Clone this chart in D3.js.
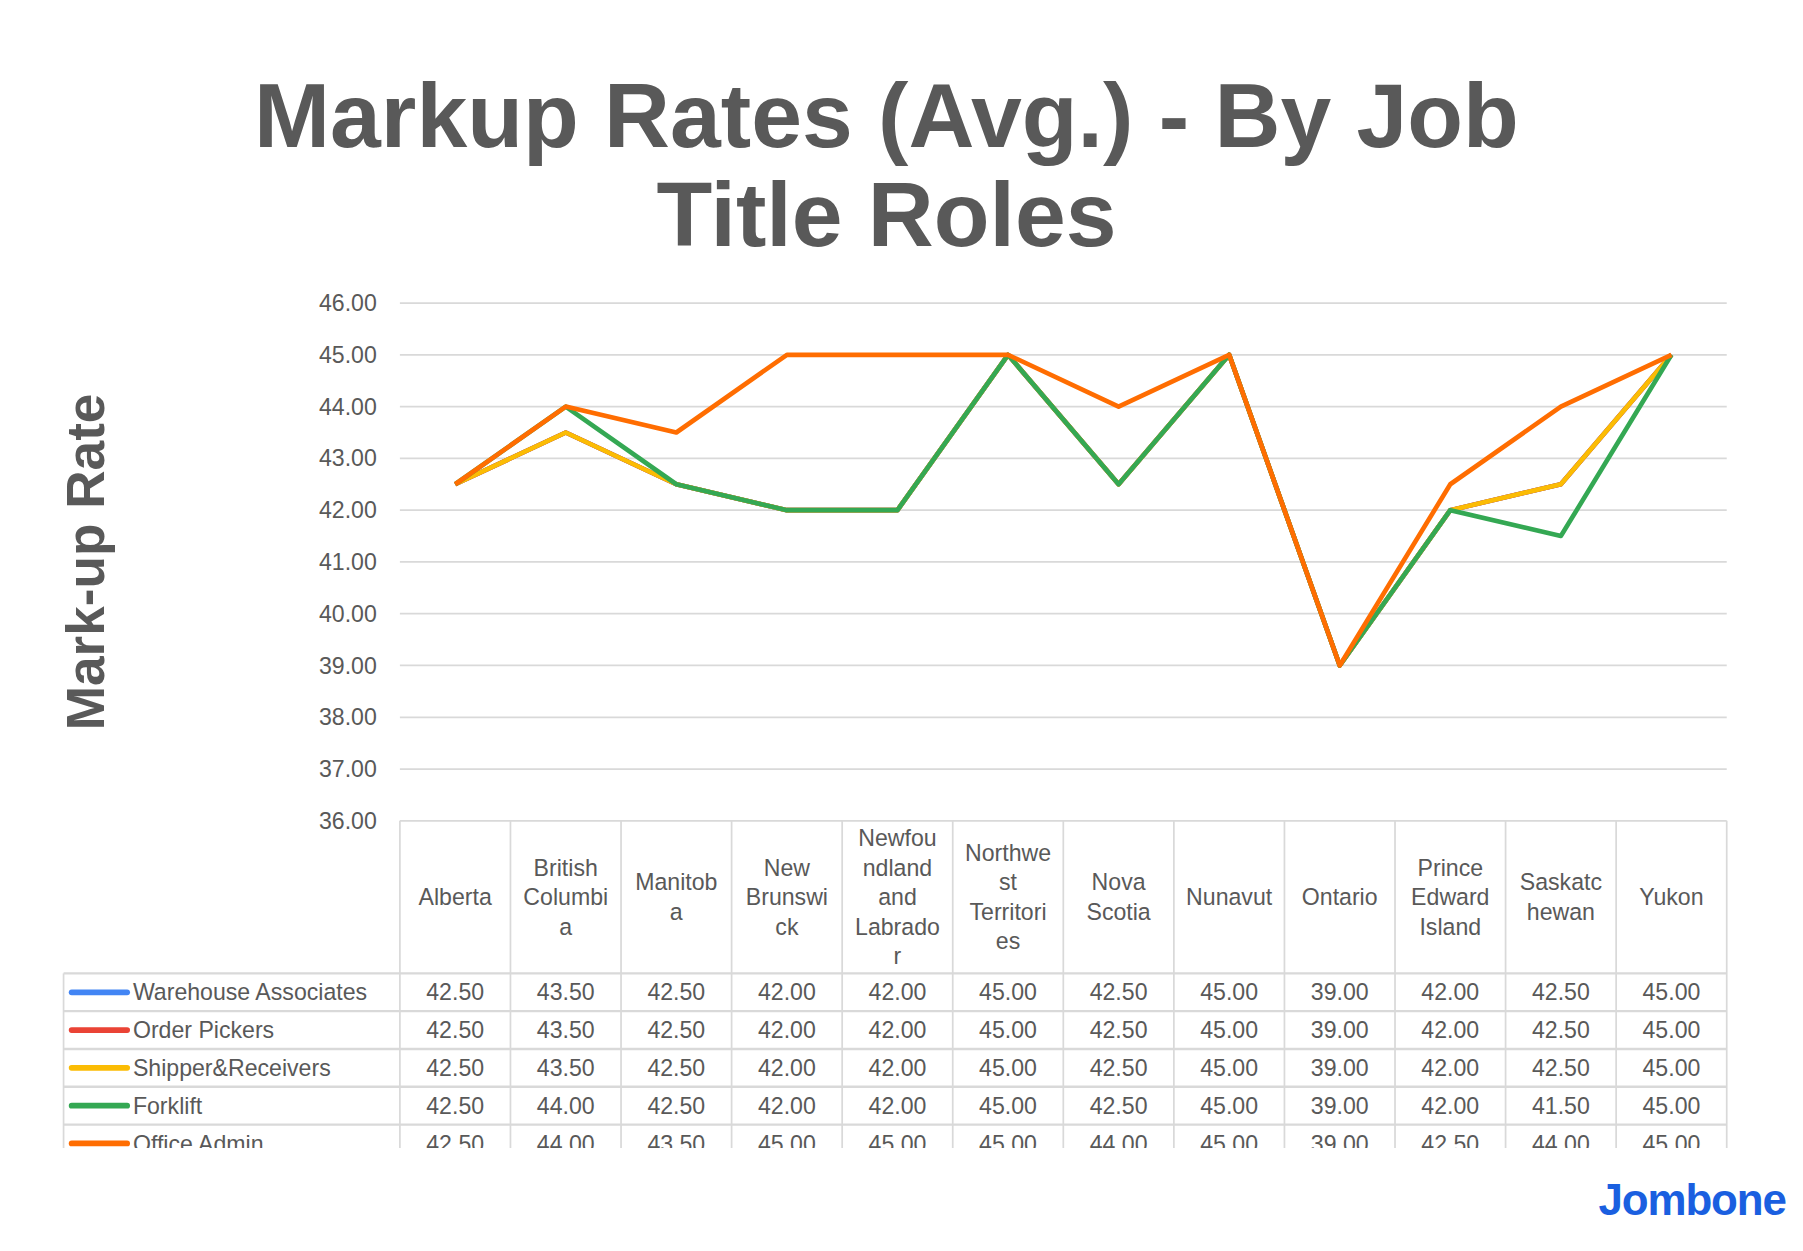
<!DOCTYPE html>
<html><head><meta charset="utf-8">
<script src="https://cdn.jsdelivr.net/npm/d3@7"></script>
<style>body{margin:0;background:#fff}svg{display:block;font-family:"Liberation Sans",Arial,sans-serif}</style>
</head><body><div id="chart"></div>
<script>
(function(d3){
  'use strict';

  // data
  var categories = [['Alberta'],['British','Columbi','a'],['Manitob','a'],['New','Brunswi','ck'],
    ['Newfou','ndland','and','Labrado','r'],['Northwe','st','Territori','es'],['Nova','Scotia'],
    ['Nunavut'],['Ontario'],['Prince','Edward','Island'],['Saskatc','hewan'],['Yukon']];
  var seriesNames = ['Warehouse Associates','Order Pickers','Shipper&Receivers','Forklift','Office Admin'];
  var seriesColors = ['#4285f4','#ea4335','#fbbc04','#34a853','#ff6d01'];
  var warehouse = [42.5,43.5,42.5,42,42,45,42.5,45,39,42,42.5,45];
  var pickers   = [42.5,43.5,42.5,42,42,45,42.5,45,39,42,42.5,45];
  var shippers  = [42.5,43.5,42.5,42,42,45,42.5,45,39,42,42.5,45];
  var forklift  = [42.5,44,42.5,42,42,45,42.5,45,39,42,41.5,45];
  var office    = [42.5,44,43.5,45,45,45,44,45,39,42.5,44,45];
  var series = [warehouse,pickers,shippers,forklift,office];
  var yTicks = d3.range(36,46.01,1);

  var W = 1560, H = 1082;
  var svg = d3.select('#chart').append('svg')
    .attr('width',1803).attr('height',1251).attr('viewBox','0 0 '+W+' '+H);

  var grey = '#595959';
  svg.append('text').attr('x',767).attr('y',127).attr('text-anchor','middle')
    .attr('font-size',79).attr('font-weight','bold').attr('fill',grey).text('Markup Rates (Avg.) - By Job');
  svg.append('text').attr('x',767).attr('y',213).attr('text-anchor','middle')
    .attr('font-size',79).attr('font-weight','bold').attr('fill',grey).text('Title Roles');
  svg.append('text').attr('transform','translate(90,486) rotate(-90)').attr('text-anchor','middle')
    .attr('font-size',46).attr('font-weight','bold').attr('fill',grey).text('Mark-up Rate');

  var left = 346, right = 1494, top = 262, bottom = 710;
  var x = d3.scaleBand().domain(d3.range(categories.length)).range([left,right]);
  var y = d3.scaleLinear().domain([36,46]).range([bottom,top]);

  // grid
  svg.append('g').selectAll('line').data(yTicks).enter().append('line')
    .attr('x1',left).attr('x2',right)
    .attr('y1',function(d){return y(d);}).attr('y2',function(d){return y(d);})
    .attr('stroke','#d9d9d9').attr('stroke-width',1.5);
  svg.append('g').selectAll('text').data(yTicks).enter().append('text')
    .attr('x',326).attr('y',function(d){return y(d)+7;}).attr('text-anchor','end')
    .attr('font-size',20).attr('fill',grey).text(function(d){return d.toFixed(2);});

  // lines
  var line = d3.line().x(function(d,i){return x(i)+x.bandwidth()/2;}).y(function(d){return y(d);});
  svg.append('g').selectAll('path').data(series).enter().append('path')
    .attr('d',line).attr('fill','none')
    .attr('stroke',function(d,i){return seriesColors[i];})
    .attr('stroke-width',4).attr('stroke-linejoin','round');

  // data table
  var tbl = svg.append('g');
  svg.append('clipPath').attr('id','tclip').append('rect').attr('x',0).attr('y',0).attr('width',W).attr('height',993);
  tbl.attr('clip-path','url(#tclip)');
  var headBottom = 842, rowH = 32.7, legLeft = 55;
  var bc = '#d9d9d9';
  x.domain().forEach(function(i){
    tbl.append('line').attr('x1',x(i)).attr('x2',x(i)).attr('y1',bottom).attr('y2',1000).attr('stroke',bc).attr('stroke-width',1.5);
  });
  tbl.append('line').attr('x1',right).attr('x2',right).attr('y1',bottom).attr('y2',1000).attr('stroke',bc).attr('stroke-width',1.5);
  tbl.append('line').attr('x1',legLeft).attr('x2',legLeft).attr('y1',headBottom).attr('y2',1000).attr('stroke',bc).attr('stroke-width',1.5);
  for (var r=0;r<=5;r++){
    var yy = headBottom + r*rowH;
    tbl.append('line').attr('x1',legLeft).attr('x2',right).attr('y1',yy).attr('y2',yy).attr('stroke',bc).attr('stroke-width',2);
  }
  // headers
  categories.forEach(function(lines,i){
    var cx = x(i)+x.bandwidth()/2, lh = 25.5, mid = 776;
    var y0 = mid - (lines.length-1)*lh/2 + 7;
    lines.forEach(function(t,k){
      tbl.append('text').attr('x',cx).attr('y',y0+k*lh).attr('text-anchor','middle')
        .attr('font-size',20).attr('fill',grey).text(t);
    });
  });
  // rows
  series.forEach(function(vals,r){
    var cy = headBottom + r*rowH + rowH/2;
    tbl.append('line').attr('x1',62).attr('x2',110).attr('y1',cy).attr('y2',cy)
      .attr('stroke',seriesColors[r]).attr('stroke-width',5).attr('stroke-linecap','round');
    tbl.append('text').attr('x',115).attr('y',cy+7).attr('font-size',20).attr('fill',grey).text(seriesNames[r]);
    vals.forEach(function(v,i){
      tbl.append('text').attr('x',x(i)+x.bandwidth()/2).attr('y',cy+7).attr('text-anchor','middle')
        .attr('font-size',20).attr('fill',grey).text(v.toFixed(2));
    });
  });

  svg.append('text').attr('x',1545).attr('y',1051).attr('text-anchor','end')
    .attr('font-size',38).attr('font-weight','bold').attr('letter-spacing',-1).attr('fill','#1a5fe0').text('Jombone');
})(window.d3);
</script></body></html>
